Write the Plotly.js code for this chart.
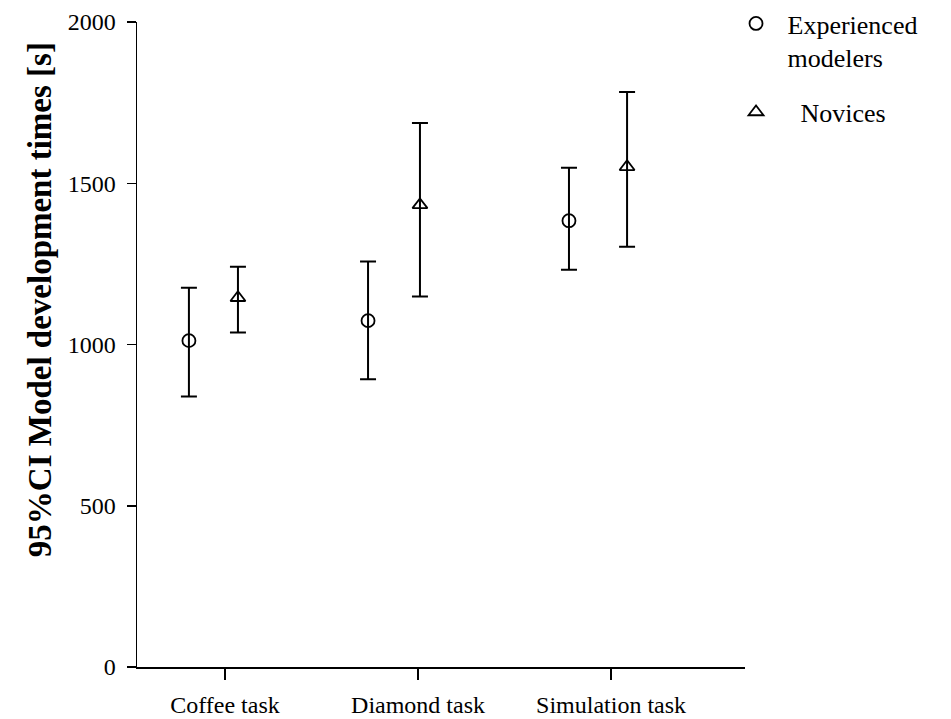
<!DOCTYPE html>
<html>
<head>
<meta charset="utf-8">
<script src="https://cdn.plot.ly/plotly-3.0.1.min.js"></script>
<style>html,body{margin:0;padding:0;background:#fff;}#chart{width:951px;height:719px;}</style>
</head>
<body>
<div id="chart"></div>
<script>
var categories = ["Coffee task", "Diamond task", "Simulation task"];
var catPos = [0, 1, 2];
// x positions of the markers as drawn (category index with its offset)
var expX = [-0.187, 0.741, 1.782];
var novX = [0.067, 1.01, 2.083];
// Experienced modelers: mean and 95% CI bounds
var expMean = [1012, 1074, 1384];
var expUpper = [1176, 1257, 1548];
var expLower = [839, 892, 1232];
// Novices: mean and 95% CI bounds
var novMean = [1145, 1433, 1551];
var novUpper = [1241, 1687, 1783];
var novLower = [1037, 1149, 1303];
var yTitle = "95%CI Model development times [s]";

function plus(m, u) { return m.map(function (v, i) { return u[i] - v; }); }
function minus(m, l) { return m.map(function (v, i) { return v - l[i]; }); }

var font = "'Liberation Serif', 'Times New Roman', Times, serif";

var traces = [
  {
    type: "scatter", mode: "markers", name: "&nbsp;Experienced<br>&nbsp;modelers", legendgroup: "a",
    x: expX, y: expMean,
    marker: { symbol: "circle-open", size: 13, color: "#000", line: { width: 1.8, color: "#000" } },
    error_y: { type: "data", symmetric: false, array: plus(expMean, expUpper), arrayminus: minus(expMean, expLower),
               color: "#000", thickness: 2, width: 8 }
  },
  {
    type: "scatter", mode: "markers", name: "&nbsp;&nbsp;&nbsp;Novices", legendgroup: "b",
    x: novX, y: novMean,
    marker: { symbol: "triangle-up-open", size: 13, color: "#000", line: { width: 1.8, color: "#000" } },
    error_y: { type: "data", symmetric: false, array: plus(novMean, novUpper), arrayminus: minus(novMean, novLower),
               color: "#000", thickness: 2, width: 8 }
  }
];

var layout = {
  width: 951, height: 719,
  margin: { l: 137, r: 206, t: 0, b: 52 },
  paper_bgcolor: "#fff", plot_bgcolor: "#fff",
  showlegend: true,
  font: { family: font, color: "#000", size: 22 },
  xaxis: {
    range: [-0.456, 2.694], tickmode: "array", tickvals: catPos, ticktext: categories,
    showline: true, linecolor: "#000", linewidth: 1.5, ticks: "outside", ticklen: 11, tickwidth: 1.5, tickcolor: "#000",
    showgrid: false, zeroline: false, tickfont: { family: font, size: 24 }, ticklabelstandoff: 5
  },
  yaxis: {
    domain: [0, 0.967],
    range: [0, 2000], tickvals: [0, 500, 1000, 1500, 2000],
    showline: true, linecolor: "#000", linewidth: 1.5, ticks: "outside", ticklen: 9, tickwidth: 1.5, tickcolor: "#000",
    showgrid: false, zeroline: false, tickfont: { family: font, size: 24 }, ticklabelstandoff: 6
  },
  annotations: [{
    text: "<b>" + yTitle + "</b>", textangle: -90, showarrow: false,
    xref: "paper", yref: "paper", x: -0.1595, y: 0.55, xanchor: "center", yanchor: "middle",
    font: { family: font, size: 33, color: "#000" }
  }],
  legend: {
    x: 0.977, y: 1.0, xanchor: "left", yanchor: "top", valign: "top",
    font: { family: font, size: 26 }, tracegroupgap: 18, bgcolor: "rgba(0,0,0,0)", itemwidth: 40
  }
};

Plotly.newPlot("chart", traces, layout, { displayModeBar: false, staticPlot: true });
</script>
</body>
</html>
